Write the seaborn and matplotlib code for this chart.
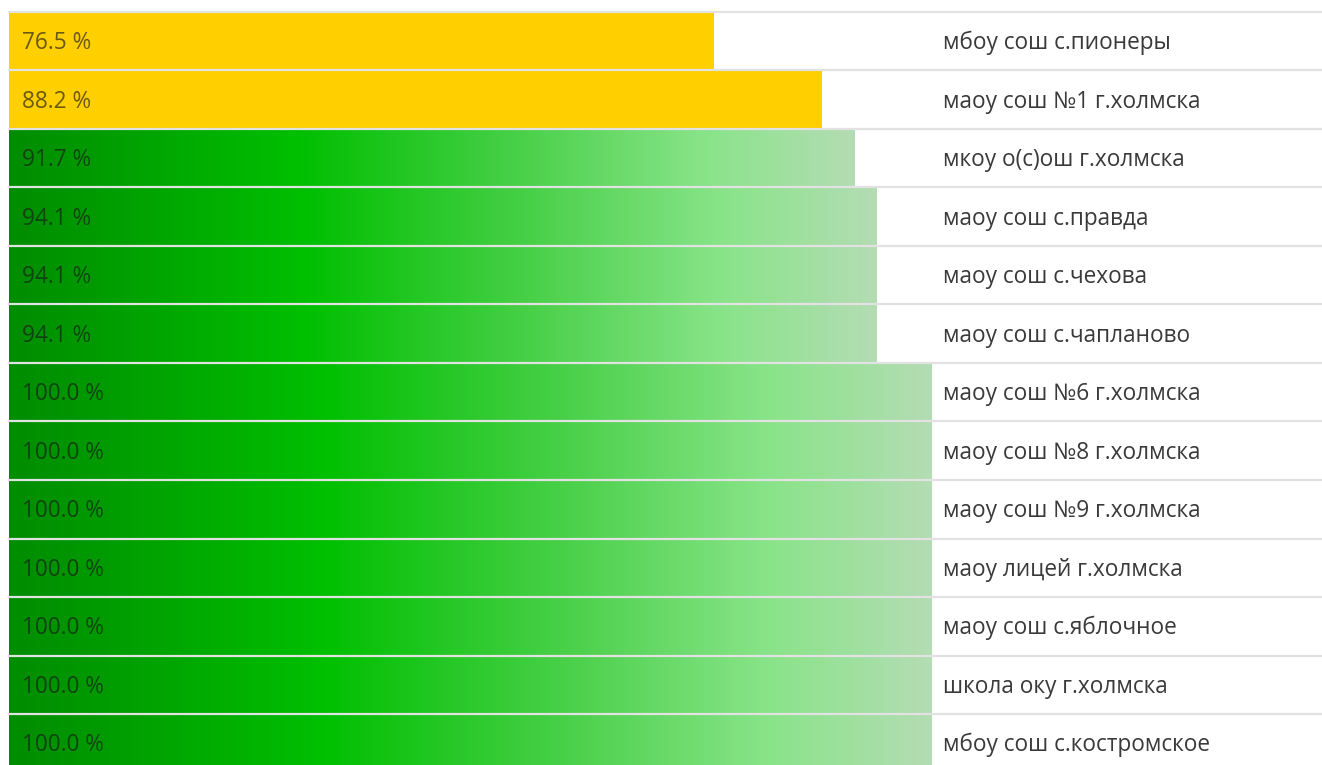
import numpy as np
import pandas as pd
import matplotlib
matplotlib.use("Agg")
import matplotlib.pyplot as plt
from matplotlib.colors import LinearSegmentedColormap
import seaborn as sns

# === DATA ===
schools = [
    "мбоу сош с.пионеры",
    "маоу сош №1 г.холмска",
    "мкоу о(с)ош г.холмска",
    "маоу сош с.правда",
    "маоу сош с.чехова",
    "маоу сош с.чапланово",
    "маоу сош №6 г.холмска",
    "маоу сош №8 г.холмска",
    "маоу сош №9 г.холмска",
    "маоу лицей г.холмска",
    "маоу сош с.яблочное",
    "школа оку г.холмска",
    "мбоу сош с.костромское",
]
values = [76.5, 88.2, 91.7, 94.1, 94.1, 94.1, 100.0, 100.0, 100.0, 100.0, 100.0, 100.0, 100.0]
threshold = 90.0

# === STYLE ===
YELLOW = "#FFCF00"
GRID = "#e2e2e2"
green_cmap = LinearSegmentedColormap.from_list(
    "bar_green",
    [(0.0, "#008C00"), (0.34, "#00BF00"), (0.60, "#48D048"),
     (0.82, "#88E488"), (1.0, "#B4DCB4")],
    N=2048,
)

sns.set_theme(style="white")
plt.rcParams["font.family"] = ["Open Sans", "DejaVu Sans"]

df = pd.DataFrame({"school": schools, "value": values})
df["pos"] = np.arange(len(df))

W, H = 1322, 765
fig = plt.figure(figsize=(W / 100, H / 100), dpi=100)
ax = fig.add_axes([0, 0, 1, 1])

# pixel geometry -> data limits
x0_px, px_per_unit = 9, 9.22
top_px, row_px = 12, 58.5

bar_colors = [YELLOW if v < threshold else "#00BF00" for v in df["value"]]
sns.barplot(data=df, x="value", y="school", hue="school", palette=bar_colors,
            orient="h", width=1.0, dodge=False, legend=False, ax=ax,
            linewidth=0, saturation=1)
ax.set_xlim(-x0_px / px_per_unit, (W - x0_px) / px_per_unit)
ax.set_ylim((H - top_px) / row_px - 0.5, -top_px / row_px - 0.5)

# gradient fill for the green bars
grad = np.linspace(0, 1, 1024).reshape(1, -1)
for patch, v in zip(ax.patches, df["value"]):
    if v < threshold:
        continue
    x, y = patch.get_x(), patch.get_y()
    w, h = patch.get_width(), patch.get_height()
    im = ax.imshow(grad, cmap=green_cmap, aspect="auto",
                   extent=(x, x + w, y + h, y), zorder=patch.get_zorder() + 0.1,
                   interpolation="bilinear")
    im.set_clip_path(patch)

# row separators
for i in range(len(df) + 1):
    ax.axhline(i - 0.5, xmin=x0_px / W, xmax=1, color=GRID, lw=1.6, zorder=5)

# value labels and names
for pos, v, name in zip(df["pos"], df["value"], df["school"]):
    ax.text(13 / px_per_unit, pos + 0.03, f"{v:.1f} %", va="center", ha="left",
            fontsize=16.3, color="#1a1a1a", alpha=0.65, zorder=6)
    ax.text((943 - x0_px) / px_per_unit, pos + 0.03, name, va="center", ha="left",
            fontsize=16.3, color="#3a3a3a", zorder=6)

ax.set_xlabel("")
ax.set_ylabel("")
ax.set_xticks([])
ax.set_yticks([])
sns.despine(ax=ax, left=True, bottom=True)
ax.set_facecolor("white")

fig.savefig("out.png", dpi=100, facecolor="white")
